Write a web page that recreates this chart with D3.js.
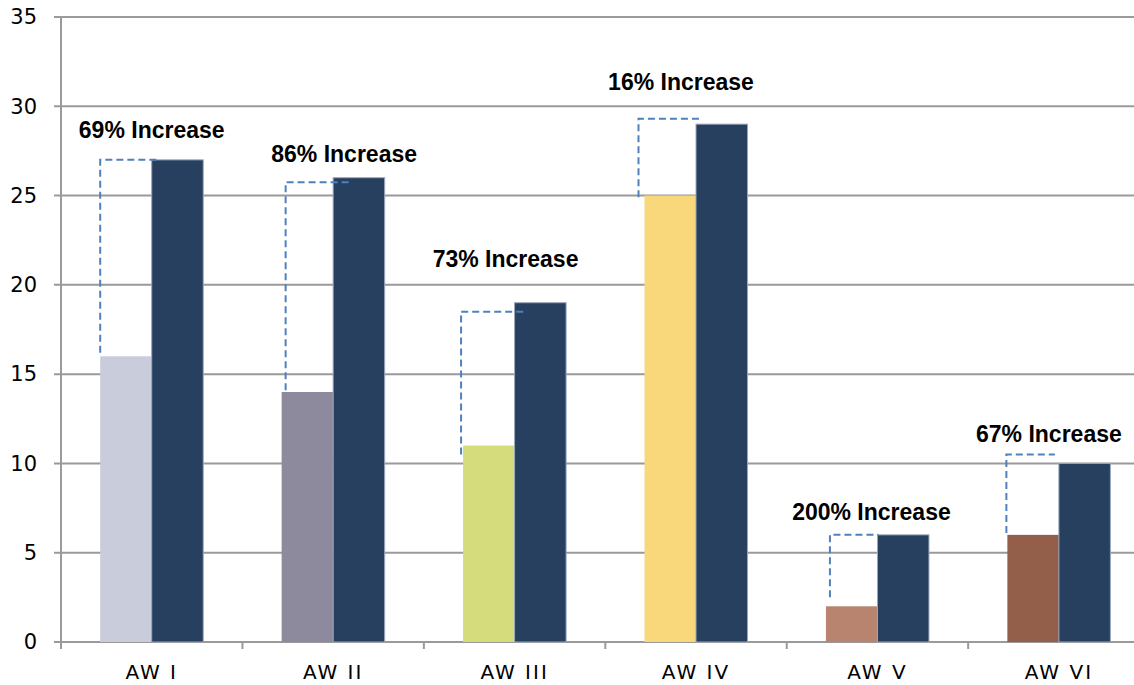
<!DOCTYPE html>
<html>
<head>
<meta charset="utf-8">
<script src="https://cdn.jsdelivr.net/npm/d3@7"></script>
<style>
  body { margin: 0; background: #fff; }
  svg { display: block; }
</style>
</head>
<body>
<script>
// data
var categories = ["AW I", "AW II", "AW III", "AW IV", "AW V", "AW VI"];
var beforeValues = [16, 14, 11, 25, 2, 6];
var afterValues = [27, 26, 19, 29, 6, 10];
var yTicks = [0, 5, 10, 15, 20, 25, 30, 35];

// annotation brackets and labels (in data units)
var bracketTop = [27.0, 25.75, 18.5, 29.3, 6.0, 10.5];
var bracketBottom = [16.2, 14.1, 10.5, 24.9, 2.5, 6.1];
var labelLevel = [28.2, 26.9, 21.0, 30.9, 6.83, 11.2];

// small hand-placement nudges (px), like the original drawing
var bracketLeftNudge = [0, 4, -2, -6, 4, -1];
var bracketRightNudge = [5, 16, 10, 6, 1, -4];
var labelNudge = [0, 11, -9, -15, -6, -10];

var beforeColors = ["#c8ccdb", "#8c8a9c", "#d5dc7c", "#f9d77b", "#b8836f", "#935e4a"];
var afterColor = "#27405f";

var svgWidth = 1134;
var svgHeight = 685;

var svg = d3.select("body")
  .append("svg")
  .attr("width", svgWidth)
  .attr("height", svgHeight);

// plot area runs past the right edge, as in the reference crop
var x0 = d3.scaleBand()
  .domain(categories)
  .range([61, 1149.6])
  .paddingInner(0)
  .paddingOuter(0);

var x1 = d3.scaleBand()
  .domain(["before", "after"])
  .range([0, x0.bandwidth()])
  .paddingInner(0)
  .paddingOuter(0.761);

var y = d3.scaleLinear()
  .domain([0, 35])
  .range([642, 17]);

// gridlines
svg.append("g")
  .selectAll("line")
  .data(yTicks)
  .enter()
  .append("line")
  .attr("x1", 54)
  .attr("x2", 1150)
  .attr("y1", d => y(d))
  .attr("y2", d => y(d))
  .attr("stroke", "#9a9a9a")
  .attr("stroke-width", 2);

// y axis
var leftAxis = d3.axisLeft(y).tickValues(yTicks).tickSize(0).tickPadding(17);
var yAxis = svg.append("g")
  .attr("transform", "translate(54,0)")
  .call(leftAxis);
yAxis.select(".domain").remove();
yAxis.selectAll("text")
  .attr("font-family", "DejaVu Sans, sans-serif")
  .attr("font-size", "21px")
  .attr("fill", "#000");

svg.append("line")
  .attr("x1", 61).attr("x2", 61)
  .attr("y1", y(35)).attr("y2", 649)
  .attr("stroke", "#9a9a9a")
  .attr("stroke-width", 2);

// x axis
var bottomAxis = d3.axisBottom(x0).tickSize(0).tickPadding(23);
var xAxis = svg.append("g")
  .attr("transform", "translate(0," + y(0) + ")")
  .call(bottomAxis);
xAxis.select(".domain").remove();
xAxis.selectAll("text")
  .attr("font-family", "DejaVu Sans, sans-serif")
  .attr("font-size", "20px")
  .attr("letter-spacing", "2px")
  .attr("fill", "#000");

// category boundary ticks
svg.append("g")
  .selectAll("line")
  .data(categories)
  .enter()
  .append("line")
  .attr("x1", d => x0(d))
  .attr("x2", d => x0(d))
  .attr("y1", y(0))
  .attr("y2", 649)
  .attr("stroke", "#9a9a9a")
  .attr("stroke-width", 2);

// bars
var groups = svg.append("g")
  .selectAll("g")
  .data(categories)
  .enter()
  .append("g")
  .attr("transform", d => "translate(" + x0(d) + ",0)");

groups.append("rect")
  .attr("x", x1("before"))
  .attr("width", x1.bandwidth())
  .attr("y", (d, i) => y(beforeValues[i]))
  .attr("height", (d, i) => y(0) - y(beforeValues[i]))
  .attr("fill", (d, i) => beforeColors[i]);

groups.append("rect")
  .attr("x", x1("after"))
  .attr("width", x1.bandwidth())
  .attr("y", (d, i) => y(afterValues[i]))
  .attr("height", (d, i) => y(0) - y(afterValues[i]))
  .attr("fill", afterColor)
  .attr("stroke", "#9aa7ba")
  .attr("stroke-width", 1);

// dashed brackets
groups.append("path")
  .attr("d", function(d, i) {
    var xl = x1("before") + bracketLeftNudge[i];
    var xr = x1("after") + bracketRightNudge[i];
    return "M" + xl + "," + y(bracketBottom[i]) +
      "V" + y(bracketTop[i]) +
      "H" + xr;
  })
  .attr("fill", "none")
  .attr("stroke", "#4f81bd")
  .attr("stroke-width", 2)
  .attr("stroke-dasharray", "7,4");

// increase labels
groups.append("text")
  .attr("x", (d, i) => x0.bandwidth() / 2 + labelNudge[i])
  .attr("y", (d, i) => y(labelLevel[i]))
  .attr("text-anchor", "middle")
  .attr("font-family", "Liberation Sans, Arial, sans-serif")
  .attr("font-weight", "bold")
  .attr("font-size", "23px")
  .attr("fill", "#000")
  .text((d, i) => Math.round((afterValues[i] - beforeValues[i]) / beforeValues[i] * 100) + "% Increase");
</script>
</body>
</html>
